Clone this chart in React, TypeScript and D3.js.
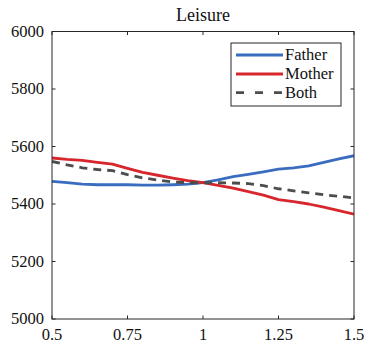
import React from "react";
import * as d3 from "d3";

const xValues = [0.5, 0.55, 0.6, 0.65, 0.7, 0.75, 0.8, 0.85, 0.9, 0.95, 1.0, 1.05, 1.1, 1.15, 1.2, 1.25, 1.3, 1.35, 1.4, 1.45, 1.5];
const fatherValues = [5479, 5474, 5469, 5467, 5467, 5467, 5466, 5466, 5467, 5469, 5474, 5484, 5495, 5503, 5512, 5521, 5526, 5533, 5545, 5557, 5568];
const motherValues = [5560, 5555, 5552, 5545, 5539, 5524, 5510, 5500, 5490, 5481, 5474, 5465, 5455, 5443, 5431, 5415, 5408, 5400, 5389, 5377, 5365];
const bothValues = [5548, 5536, 5526, 5520, 5516, 5502, 5491, 5483, 5477, 5474, 5474, 5474, 5473, 5471, 5464, 5453, 5446, 5439, 5432, 5427, 5421];
const xTicks = [0.5, 0.75, 1, 1.25, 1.5];
const xTickLabels = ["0.5", "0.75", "1", "1.25", "1.5"];
const yTicks = [5000, 5200, 5400, 5600, 5800, 6000];
const seriesNames = ["Father", "Mother", "Both"];
const title = "Leisure";

const W = 367;
const H = 343;
const left = 52;
const right = 354;
const top = 31.5;
const bottom = 319;
const font = "'Liberation Serif', 'Nimbus Roman', FreeSerif, Tinos, Times, 'DejaVu Serif', serif";
const axisColor = "#262626";

export default function App() {
  const x = d3.scaleLinear().domain([0.5, 1.5]).range([left, right]);
  const y = d3.scaleLinear().domain([5000, 6000]).range([bottom, top]);
  const line = d3
    .line<number>()
    .x((_, i) => x(xValues[i]))
    .y((d) => y(d));

  const series = [
    { name: seriesNames[0], values: fatherValues, color: "#3a6cbf", dash: undefined as string | undefined },
    { name: seriesNames[1], values: motherValues, color: "#d7262c", dash: undefined as string | undefined },
    { name: seriesNames[2], values: bothValues, color: "#4d4d4d", dash: "8,6" },
  ];

  const legendX = 231;
  const legendY = 43;
  const legendW = 110;
  const legendH = 63;
  const rowY = [55, 74, 92.7];

  return (
    <svg
      width={W}
      height={H}
      style={{ position: "absolute", left: 0, top: 0, background: "#fff" }}
    >
      <defs>
        <clipPath id="plotclip">
          <rect x={left} y={top} width={right - left} height={bottom - top} />
        </clipPath>
      </defs>
      <text
        x={(left + right) / 2}
        y={21}
        textAnchor="middle"
        style={{ fontFamily: font }}
        fontSize={18}
        fill="#111"
      >
        {title}
      </text>

      <g clipPath="url(#plotclip)">
        {series.map((s) => (
          <path
            key={s.name}
            d={line(s.values) || ""}
            fill="none"
            stroke={s.color}
            strokeWidth={2.8}
            strokeDasharray={s.dash}
            strokeLinejoin="round"
          />
        ))}
      </g>

      <rect
        x={left}
        y={top}
        width={right - left}
        height={bottom - top}
        fill="none"
        stroke={axisColor}
        strokeWidth={1}
      />
      {xTicks.map((t, i) => (
        <g key={"xt" + t}>
          <line x1={x(t)} x2={x(t)} y1={bottom} y2={bottom - 3.5} stroke={axisColor} />
          <line x1={x(t)} x2={x(t)} y1={top} y2={top + 3.5} stroke={axisColor} />
          <text
            x={x(t)}
            y={340}
            textAnchor="middle"
            style={{ fontFamily: font }}
            fontSize={16.5}
            fill="#111"
          >
            {xTickLabels[i]}
          </text>
        </g>
      ))}
      {yTicks.map((t) => (
        <g key={"yt" + t}>
          <line x1={left} x2={left + 3.5} y1={y(t)} y2={y(t)} stroke={axisColor} />
          <line x1={right} x2={right - 3.5} y1={y(t)} y2={y(t)} stroke={axisColor} />
          <text
            x={44}
            y={y(t) + 5}
            textAnchor="end"
            style={{ fontFamily: font }}
            fontSize={16.5}
            fill="#111"
          >
            {d3.format("d")(t)}
          </text>
        </g>
      ))}

      <rect
        x={legendX}
        y={legendY}
        width={legendW}
        height={legendH}
        fill="#fff"
        stroke={axisColor}
        strokeWidth={1}
      />
      {series.map((s, i) => (
        <g key={"lg" + s.name}>
          <line
            x1={236}
            x2={283}
            y1={rowY[i]}
            y2={rowY[i]}
            stroke={s.color}
            strokeWidth={2.8}
            strokeDasharray={s.dash ? "8,11" : undefined}
          />
          <text
            x={285}
            y={rowY[i] + 5}
            style={{ fontFamily: font }}
            fontSize={16.5}
            fill="#111"
          >
            {s.name}
          </text>
        </g>
      ))}
    </svg>
  );
}
